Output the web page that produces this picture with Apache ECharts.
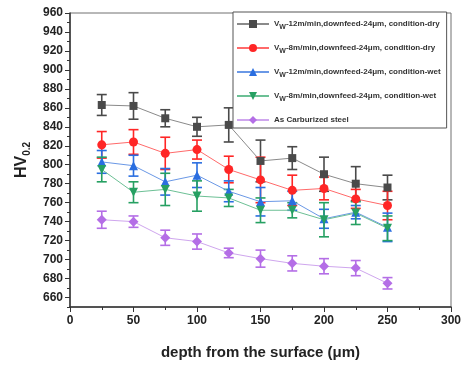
<!DOCTYPE html>
<html><head><meta charset="utf-8">
<script src="https://cdn.jsdelivr.net/npm/echarts@6/dist/echarts.min.js"></script>
<style>html,body{margin:0;padding:0;background:#fff}#c{width:466px;height:365px}</style>
</head><body><div id="c"></div>
<script>
const depth = [25, 50, 75, 100, 125, 150, 175, 200, 225, 250];
const dry12 = [863, 862, 849, 840, 842, 804, 807, 790, 780, 776];
const dry12Err = [11, 14, 9, 10, 18, 22, 12, 18, 18, 13];
const dry8 = [821, 824, 812, 816, 795, 784, 773, 775, 764, 757];
const dry8Err = [14, 13, 17, 10, 14, 24, 16, 12, 10, 15];
const wet12 = [803, 799, 782, 789, 772, 761, 762, 743, 750, 734];
const wet12Err = [12, 11, 14, 13, 11, 15, 10, 10, 7, 15];
const wet8 = [795, 771, 774, 767, 765, 752, 752, 742, 749, 733];
const wet8Err = [13, 11, 17, 16, 9, 13, 8, 18, 12, 13];
const carb = [742, 740, 723, 719, 707, 701, 696, 693, 691, 675];
const carbErr = [9, 6, 8, 8, 5, 9, 8, 8, 8, 6];
const yTicks = [660, 680, 700, 720, 740, 760, 780, 800, 820, 840, 860, 880, 900, 920, 940, 960];
const xTicks = [0, 50, 100, 150, 200, 250, 300];
const seriesNames = [
  'V{sub|W}-12m/min,downfeed-24μm, condition-dry',
  'V{sub|W}-8m/min,downfeed-24μm, condition-dry',
  'V{sub|W}-12m/min,downfeed-24μm, condition-wet',
  'V{sub|W}-8m/min,downfeed-24μm, condition-wet',
  'As Carburized steel'
];

const defs = [
  {vals: dry12, err: dry12Err, color: '#4a4a4a', line: '#8a8a8a', symbol: 'rect', size: 8, rot: 0},
  {vals: dry8, err: dry8Err, color: '#ff2626', line: '#ff6a6a', symbol: 'circle', size: 9, rot: 0},
  {vals: wet12, err: wet12Err, color: '#2a6ee0', line: '#6a98e6', symbol: 'triangle', size: 9, rot: 0},
  {vals: wet8, err: wet8Err, color: '#26a062', line: '#6cc095', symbol: 'triangle', size: 9, rot: 180},
  {vals: carb, err: carbErr, color: '#b46ee6', line: '#cfa6ee', symbol: 'diamond', size: 10, rot: 0}
];

const series = [];
defs.forEach((d, i) => {
  series.push({
    name: 'err' + i, type: 'custom', xAxisIndex: 0, yAxisIndex: 0, z: 3,
    data: depth.map((x, k) => [x, d.vals[k], d.err[k]]),
    renderItem: function (params, api) {
      const x = api.value(0), y = api.value(1), e = api.value(2);
      const t = api.coord([x, y + e]), b = api.coord([x, y - e]);
      const cw = 5;
      const st = {stroke: d.color, lineWidth: 1.6};
      return {type: 'group', children: [
        {type: 'line', shape: {x1: t[0], y1: t[1], x2: b[0], y2: b[1]}, style: st},
        {type: 'line', shape: {x1: t[0] - cw, y1: t[1], x2: t[0] + cw, y2: t[1]}, style: st},
        {type: 'line', shape: {x1: b[0] - cw, y1: b[1], x2: b[0] + cw, y2: b[1]}, style: st}
      ]};
    },
    silent: true
  });
  series.push({
    name: seriesNames[i], type: 'line', xAxisIndex: 0, yAxisIndex: 0, z: 4,
    data: depth.map((x, k) => [x, d.vals[k]]),
    symbol: d.symbol, symbolSize: d.size, symbolRotate: d.rot,
    itemStyle: {color: d.color},
    lineStyle: {color: d.line, width: 1},
    showSymbol: true
  });
});

const chart = echarts.init(document.getElementById('c'));
const font = 'Liberation Sans, Arial, sans-serif';
chart.setOption({
  animation: false,
  backgroundColor: '#fff',
  textStyle: {fontFamily: font},
  grid: {left: 70, right: 15, top: 13, bottom: 53, show: true, borderColor: '#707070', borderWidth: 1},
  legend: {
    data: seriesNames, orient: 'vertical', left: 233, top: 12,
    itemWidth: 32, itemHeight: 10, itemGap: 13,
    padding: [8, 6, 4, 3],
    borderColor: '#555', borderWidth: 1, backgroundColor: '#fff',
    textStyle: {fontSize: 8, fontWeight: 'bold', color: '#333', fontFamily: font,
      rich: {sub: {fontSize: 7, fontWeight: 'bold', color: '#333', padding: [7, 0, 0, 0]}}}
  },
  xAxis: [{
    type: 'value', min: 0, max: 300, interval: 50,
    name: 'depth from the surface (μm)', nameLocation: 'middle', nameGap: 38,
    nameTextStyle: {fontSize: 15, fontWeight: 'bold', color: '#222'},
    axisLine: {show: true, lineStyle: {color: '#333', width: 1.5}},
    axisTick: {show: true, length: 5, lineStyle: {color: '#333'}, customValues: xTicks},
    minorTick: {show: true, splitNumber: 2, length: 3, lineStyle: {color: '#333'}},
    axisLabel: {fontSize: 12, fontWeight: 'bold', color: '#222', margin: 8, customValues: xTicks},
    splitLine: {show: false}
  }],
  yAxis: [{
    type: 'value', min: 650, max: 960, interval: 10,
    name: 'HV{sub|0.2}', nameLocation: 'middle', nameGap: 38, nameRotate: 90,
    nameTextStyle: {fontSize: 16, fontWeight: 'bold', color: '#222',
      rich: {sub: {fontSize: 10, fontWeight: 'bold', color: '#222', padding: [10, 0, 0, 0]}}},
    axisLine: {show: true, lineStyle: {color: '#333', width: 1.5}},
    axisTick: {show: true, length: 5, lineStyle: {color: '#333'}, customValues: yTicks},
    axisLabel: {fontSize: 12, fontWeight: 'bold', color: '#222', margin: 7, customValues: yTicks},
    splitLine: {show: false}
  }, {
    type: 'value', min: 650, max: 960, interval: 10, position: 'left',
    axisLine: {show: false},
    axisTick: {show: true, length: 3, lineStyle: {color: '#333'}},
    axisLabel: {show: false},
    splitLine: {show: false}
  }],
  series: series
});
</script>
</body></html>
